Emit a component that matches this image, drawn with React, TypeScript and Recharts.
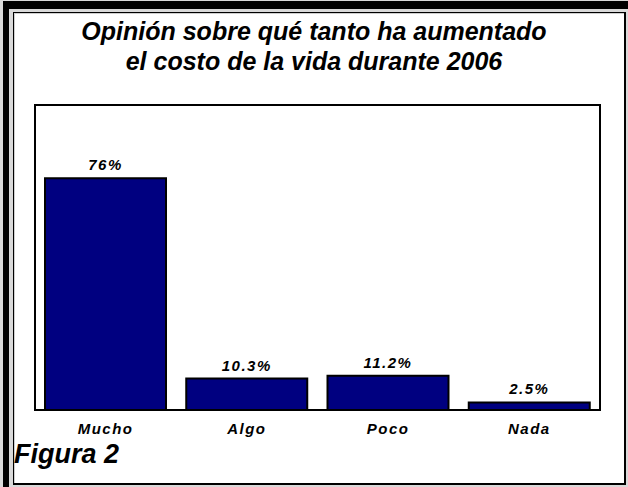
import { BarChart, Bar, XAxis, YAxis, LabelList, ReferenceArea } from 'recharts';

const categories = ['Mucho', 'Algo', 'Poco', 'Nada'];
const values = [76, 10.3, 11.2, 2.5];
const valueLabels = ['76%', '10.3%', '11.2%', '2.5%'];

const data = categories.map((name, i) => ({ name, value: values[i], label: valueLabels[i] }));

const FONT = '"Liberation Sans", Arial, sans-serif';

const App = () => {
  return (
    <div style={{ position: 'absolute', left: 0, top: 0, width: 628, height: 487, background: '#d9d9d9', overflow: 'hidden', fontFamily: FONT }}>
      {/* dark bands top / left */}
      <div style={{ position: 'absolute', left: 3, top: 1, width: 625, height: 8, background: '#000' }} />
      <div style={{ position: 'absolute', left: 3, top: 1, width: 6, height: 486, background: '#000' }} />

      {/* panel */}
      <div
        style={{
          position: 'absolute',
          left: 13,
          top: 12,
          width: 610,
          height: 470,
          borderTop: '1px solid #000',
          borderLeft: '1px solid #000',
          borderRight: '2px solid #000',
          borderBottom: '2px solid #000',
          background: '#fff',
          boxShadow: 'inset 1px 1px 0 #cfcfcf',
        }}
      />

      <div
        style={{
          position: 'absolute',
          left: 0,
          top: 16,
          width: 628,
          textAlign: 'center',
          fontWeight: 'bold',
          fontStyle: 'italic',
          fontSize: 25,
          lineHeight: '30px',
          color: '#000',
        }}
      >
        Opinión sobre qué tanto ha aumentado
        <br />
        el costo de la vida durante 2006
      </div>

      <div style={{ position: 'absolute', left: 0, top: 0 }}>
        <BarChart width={628} height={487} data={data} margin={{ top: 105, right: 28, bottom: 47, left: 35 }}>
          <XAxis
            dataKey="name"
            height={30}
            axisLine={false}
            tickLine={false}
            tickMargin={7}
            tick={{ fill: '#000', fontSize: 15, fontWeight: 'bold', fontStyle: 'italic', fontFamily: FONT, letterSpacing: 1.5 }}
          />
          <YAxis hide domain={[0, 100]} />
          <ReferenceArea y1={0} y2={100} fill="none" stroke="#000" strokeWidth={2} ifOverflow="visible" />
          <Bar dataKey="value" fill="#000080" stroke="#000" strokeWidth={2} barSize={121} isAnimationActive={false}>
            <LabelList
              dataKey="label"
              position="top"
              offset={8}
              style={{ fill: '#000', fontSize: 15, fontWeight: 'bold', fontStyle: 'italic', fontFamily: FONT, letterSpacing: 1.5 }}
            />
          </Bar>
        </BarChart>
      </div>

      <div
        style={{
          position: 'absolute',
          left: 14,
          top: 439,
          fontWeight: 'bold',
          fontStyle: 'italic',
          fontSize: 27,
          color: '#000',
        }}
      >
        Figura 2
      </div>
    </div>
  );
};

export default App;
